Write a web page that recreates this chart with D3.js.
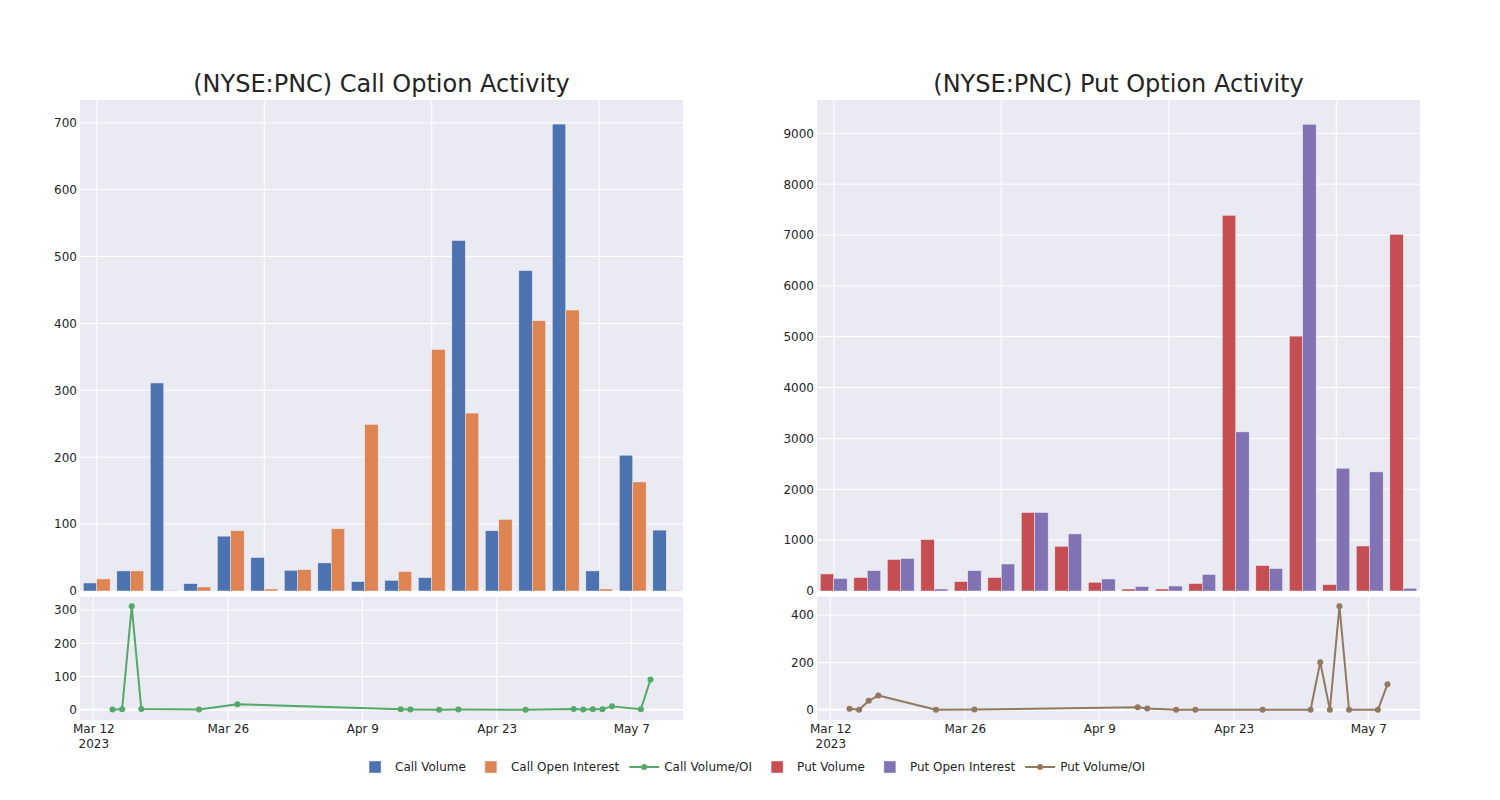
<!DOCTYPE html>
<html><head><meta charset="utf-8">
<script src="https://cdn.jsdelivr.net/npm/d3@7"></script>
<style>body{margin:0;background:#fff} svg{display:block;font-family:"DejaVu Sans",sans-serif}</style>
</head><body><svg id="chart" width="1500" height="800"></svg>
<script>
// ---- data ----
const dates = ["2023-03-14","2023-03-15","2023-03-16","2023-03-17","2023-03-23","2023-03-27","2023-04-13","2023-04-14","2023-04-17","2023-04-19","2023-04-26","2023-05-01","2023-05-02","2023-05-03","2023-05-04","2023-05-05","2023-05-08","2023-05-09"];
const callVolume = [12,30,311,11,82,50,31,42,14,16,20,524,90,479,698,30,203,91];
const callOpenInterest = [18,30,1,6,90,3,32,93,249,29,361,266,107,404,420,3,163,1];
const callVolOI = [0.67,1,311,1.83,0.91,16.7,0.97,0.45,0.06,0.55,0.06,1.97,0.84,1.19,1.66,10,1.25,91];
const putVolume = [335,264,618,1011,185,264,1543,880,171,39,39,146,7387,500,5012,126,885,7013];
const putOpenInterest = [244,401,638,39,401,531,1543,1122,236,87,98,323,3129,441,9178,2414,2342,53];
const putVolOI = [4,0,38,60,0,1,11,6,0,0,0,0,201,0,437,0,0,108];
const dateTicks = ["2023-03-12","2023-03-26","2023-04-09","2023-04-23","2023-05-07"];
const callBarTicks = [0,100,200,300,400,500,600,700];
const putBarTicks = [0,1000,2000,3000,4000,5000,6000,7000,8000,9000];
const callRatioTicks = [0,100,200,300];
const putRatioTicks = [0,200,400];
const titles = ["(NYSE:PNC) Call Option Activity","(NYSE:PNC) Put Option Activity"];
const legendItems = [
  {name:"Call Volume", type:"bar", color:"rgb(76,114,176)"},
  {name:"Call Open Interest", type:"bar", color:"rgb(221,132,82)"},
  {name:"Call Volume/OI", type:"line", color:"rgb(85,168,104)"},
  {name:"Put Volume", type:"bar", color:"rgb(196,78,82)"},
  {name:"Put Open Interest", type:"bar", color:"rgb(129,114,179)"},
  {name:"Put Volume/OI", type:"line", color:"rgb(147,120,96)"}
];

// ---- setup ----
const svg = d3.select("#chart");
const BG = "rgb(234,234,242)", TXT = "rgb(36,36,36)";
const FONT = "DejaVu Sans";
const parse = d3.utcParse("%Y-%m-%d");
const dateObjs = dates.map(parse);
const DAY = 86400000, pad = 3.384 * DAY;
const timeDomain = [new Date(dateObjs[0].getTime() - pad), new Date(dateObjs[dateObjs.length-1].getTime() + pad)];
const topY = [100, 591], botY = [597, 720];

function styleText(sel) {
  sel.attr("font-size", 12).attr("fill", TXT).attr("font-family", FONT);
}

function panel(cfg) {
  const {x0, x1, title, vol, oi, ratio, colors, barMax, barTicks, ratioDom, ratioTicks} = cfg;
  const g = svg.append("g");
  g.append("text").attr("x", (x0 + x1) / 2).attr("y", 92).attr("text-anchor", "middle")
    .attr("font-size", 24).attr("font-family", FONT).attr("fill", TXT).text(title);

  // ---- top bars ----
  const xb = d3.scaleBand().domain(d3.range(dates.length)).range([x0, x1]).padding(0);
  const xs = d3.scaleBand().domain([0, 1]).range([xb.bandwidth() * 0.1, xb.bandwidth() * 0.9]).padding(0);
  const yb = d3.scaleLinear().domain([0, barMax]).range([topY[1], topY[0]]);
  g.append("rect").attr("x", x0).attr("y", topY[0]).attr("width", x1 - x0).attr("height", topY[1] - topY[0]).attr("fill", BG);
  g.append("g").selectAll("line").data(barTicks).join("line")
    .attr("x1", x0).attr("x2", x1).attr("y1", d => yb(d)).attr("y2", d => yb(d))
    .attr("stroke", "#fff").attr("stroke-width", 1);
  g.append("g").selectAll("line").data([0, 5, 10, 15]).join("line")
    .attr("x1", d => xb(d) + xb.bandwidth() / 2).attr("x2", d => xb(d) + xb.bandwidth() / 2)
    .attr("y1", topY[0]).attr("y2", topY[1]).attr("stroke", "#fff").attr("stroke-width", 1);
  [vol, oi].forEach((arr, si) => {
    g.append("g").selectAll("rect").data(arr).join("rect")
      .attr("x", (d, i) => xb(i) + xs(si)).attr("width", xs.bandwidth())
      .attr("y", d => yb(d)).attr("height", d => yb(0) - yb(d))
      .attr("fill", colors[si]).attr("stroke", BG).attr("stroke-width", 0.5);
  });
  const ay = g.append("g").attr("transform", `translate(${x0 - 3},0)`)
    .call(d3.axisLeft(yb).tickValues(barTicks).tickSize(0).tickPadding(0).tickFormat(d3.format("d")));
  ay.select(".domain").remove();
  styleText(ay.selectAll("text"));

  // ---- bottom line ----
  const xt = d3.scaleUtc().domain(timeDomain).range([x0, x1]);
  const yr = d3.scaleLinear().domain(ratioDom).range([botY[1], botY[0]]);
  g.append("rect").attr("x", x0).attr("y", botY[0]).attr("width", x1 - x0).attr("height", botY[1] - botY[0]).attr("fill", BG);
  g.append("g").selectAll("line").data(ratioTicks).join("line")
    .attr("x1", x0).attr("x2", x1).attr("y1", d => yr(d)).attr("y2", d => yr(d))
    .attr("stroke", "#fff").attr("stroke-width", d => d === 0 ? 2 : 1);
  const tickDates = dateTicks.map(parse);
  g.append("g").selectAll("line").data(tickDates).join("line")
    .attr("x1", d => xt(d)).attr("x2", d => xt(d)).attr("y1", botY[0]).attr("y2", botY[1])
    .attr("stroke", "#fff").attr("stroke-width", 1);
  const line = d3.line().x((d, i) => xt(dateObjs[i])).y(d => yr(d));
  g.append("path").datum(ratio).attr("d", line).attr("fill", "none")
    .attr("stroke", colors[2]).attr("stroke-width", 2).attr("stroke-linejoin", "round");
  g.append("g").selectAll("circle").data(ratio).join("circle")
    .attr("cx", (d, i) => xt(dateObjs[i])).attr("cy", d => yr(d)).attr("r", 3).attr("fill", colors[2]);
  const ay2 = g.append("g").attr("transform", `translate(${x0 - 3},0)`)
    .call(d3.axisLeft(yr).tickValues(ratioTicks).tickSize(0).tickPadding(0).tickFormat(d3.format("d")));
  ay2.select(".domain").remove();
  styleText(ay2.selectAll("text"));
  const ax = g.append("g").attr("transform", `translate(0,${botY[1]})`)
    .call(d3.axisBottom(xt).tickValues(tickDates).tickSize(0).tickPadding(0).tickFormat(d3.utcFormat("%b %-d")));
  ax.select(".domain").remove();
  styleText(ax.selectAll("text"));
  ax.selectAll("text").attr("dy", 13.3);
  const yr2023 = ax.selectAll(".tick").filter((d, i) => i === 0).append("text")
    .attr("y", 28.3).attr("text-anchor", "middle").text("2023");
  styleText(yr2023);
}

panel({x0: 80, x1: 683, title: titles[0], vol: callVolume, oi: callOpenInterest, ratio: callVolOI,
  colors: [legendItems[0].color, legendItems[1].color, legendItems[2].color],
  barMax: 734, barTicks: callBarTicks, ratioDom: [-31, 339], ratioTicks: callRatioTicks});
panel({x0: 817, x1: 1420, title: titles[1], vol: putVolume, oi: putOpenInterest, ratio: putVolOI,
  colors: [legendItems[3].color, legendItems[4].color, legendItems[5].color],
  barMax: 9655, barTicks: putBarTicks, ratioDom: [-43, 476], ratioTicks: putRatioTicks});

// ---- legend ----
const lg = svg.append("g");
let cx = 0;
legendItems.forEach(it => {
  const gi = lg.append("g").attr("transform", `translate(${cx},0)`);
  if (it.type === "bar") {
    gi.append("rect").attr("x", 14).attr("y", -6).attr("width", 12).attr("height", 12)
      .attr("fill", it.color).attr("stroke", BG).attr("stroke-width", 0.5);
  } else {
    gi.append("line").attr("x1", 5).attr("x2", 35).attr("y1", 0).attr("y2", 0).attr("stroke", it.color).attr("stroke-width", 2);
    gi.append("circle").attr("cx", 20).attr("cy", 0).attr("r", 3).attr("fill", it.color);
  }
  const t = gi.append("text").attr("x", 40).attr("y", 0).attr("dy", "0.35em").text(it.name);
  styleText(t);
  cx += 40 + t.node().getComputedTextLength() + 5;
});
const totalW = cx - 5;
lg.attr("transform", `translate(${750 - totalW / 2},767)`);
</script></body></html>
